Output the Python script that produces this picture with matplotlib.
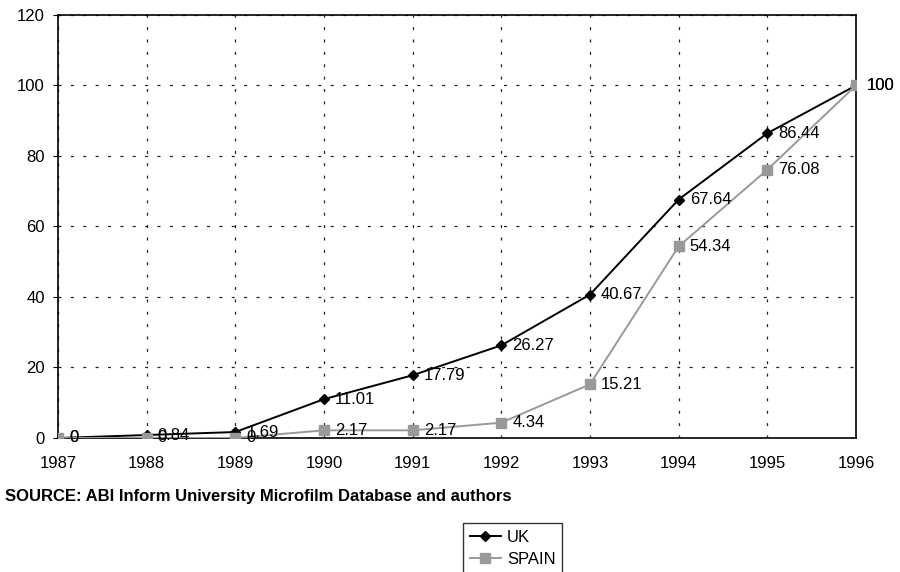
import matplotlib
matplotlib.use("Agg")
import matplotlib.pyplot as plt

plt.rcParams['font.family'] = ['Liberation Sans', 'DejaVu Sans']

years = [1987, 1988, 1989, 1990, 1991, 1992, 1993, 1994, 1995, 1996]
uk = [0, 0.84, 1.69, 11.01, 17.79, 26.27, 40.67, 67.64, 86.44, 100]
spain = [0, 0, 0, 2.17, 2.17, 4.34, 15.21, 54.34, 76.08, 100]
uk_labels = ['0', '0.84', '1.69', '11.01', '17.79', '26.27', '40.67', '67.64', '86.44', '100']
spain_labels = ['0', '0', '0', '2.17', '2.17', '4.34', '15.21', '54.34', '76.08', '100']

fig = plt.figure(figsize=(9, 5.72), dpi=100)
ax = fig.add_axes([0.0644, 0.2343, 0.8866, 0.7395])

ax.plot(years, uk, color='black', lw=1.4, marker='D', ms=5.5, label='UK', zorder=3)
ax.plot(years, spain, color='#999999', lw=1.4, marker='s', ms=7, label='SPAIN', zorder=4)

for x, y, t in zip(years, uk, uk_labels):
    ax.annotate(t, (x, y), xytext=(8, 0), textcoords='offset points',
                va='center', ha='left', fontsize=12, zorder=5)
for x, y, t in zip(years, spain, spain_labels):
    ax.annotate(t, (x, y), xytext=(8, 0), textcoords='offset points',
                va='center', ha='left', fontsize=12, zorder=5)

ax.set_xlim(1987, 1996)
ax.set_ylim(0, 120)
ax.set_xticks(years)
ax.set_yticks(range(0, 121, 20))
ax.tick_params(axis='both', labelsize=12, colors='black')
ax.tick_params(axis='x', length=0, pad=13)
ax.tick_params(axis='y', length=3.6, pad=6)
ax.grid(True, color='#222222', lw=0.9, linestyle=(0, (2.4, 7.5)))
ax.set_axisbelow(True)
for s in ax.spines.values():
    s.set_color('black')
    s.set_linewidth(1.2)

fig.text(0.006, 0.124, 'SOURCE: ABI Inform University Microfilm Database and authors',
         fontsize=12, fontweight='bold', va='baseline', ha='left')

leg = fig.legend(loc='upper left', bbox_to_anchor=(0.5144, 0.0857), fontsize=12,
                 frameon=True, fancybox=False, edgecolor='black', handlelength=1.9,
                 handletextpad=0.35, borderpad=0.4, labelspacing=0.45, borderaxespad=0)
leg.get_frame().set_linewidth(1.0)

fig.savefig('out.png', dpi=100)
